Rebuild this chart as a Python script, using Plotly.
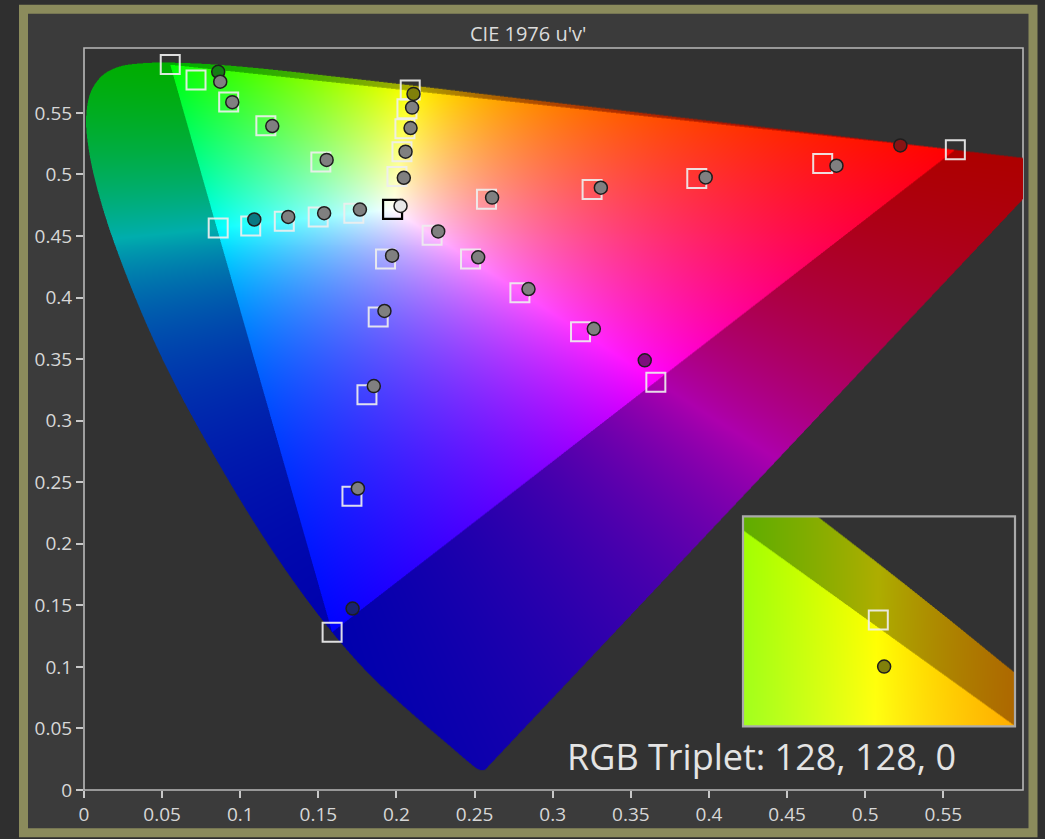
import base64, struct, zlib
import numpy as np
import plotly.graph_objects as go

# ---------------- data (u', v') ----------------
# spectral locus, 380 nm ... 700 nm (closed by the purple line)
locus_u = [0.2568, 0.2557, 0.2522, 0.2461, 0.2347, 0.2161, 0.1877, 0.1690, 0.1441, 0.1147,
           0.0828, 0.0521, 0.0282, 0.0119, 0.0035, 0.0014, 0.0046, 0.0123, 0.0231, 0.0360,
           0.0501, 0.0792, 0.1127, 0.1531, 0.2026, 0.2312, 0.2623, 0.3315, 0.4035, 0.4692,
           0.5203, 0.5565, 0.5830, 0.6005, 0.6109, 0.6234]
locus_v = [0.0166, 0.0160, 0.0170, 0.0228, 0.0352, 0.0553, 0.0877, 0.1128, 0.1521, 0.2058,
           0.2727, 0.3451, 0.4146, 0.4732, 0.5167, 0.5470, 0.5677, 0.5810, 0.5878, 0.5902,
           0.5909, 0.5897, 0.5862, 0.5806, 0.5734, 0.5691, 0.5643, 0.5539, 0.5431, 0.5333,
           0.5256, 0.5201, 0.5161, 0.5135, 0.5120, 0.5101]

# targets (squares): 100 % ... 20 % saturation
red_target_u = [0.5577, 0.4728, 0.3922, 0.3252, 0.2576]
red_target_v = [0.5201, 0.5089, 0.4967, 0.4878, 0.4798]
green_target_u = [0.0552, 0.0717, 0.0926, 0.1164, 0.1516]
green_target_v = [0.5892, 0.5768, 0.5589, 0.5395, 0.5102]
blue_target_u = [0.1588, 0.1715, 0.1811, 0.1883, 0.1930]
blue_target_v = [0.1282, 0.2387, 0.3210, 0.3843, 0.4313]
cyan_target_u = [0.0859, 0.1067, 0.1282, 0.1499, 0.1727]
cyan_target_v = [0.4564, 0.4582, 0.4620, 0.4655, 0.4685]
magenta_target_u = [0.3660, 0.3178, 0.2790, 0.2474, 0.2228]
magenta_target_v = [0.3313, 0.3722, 0.4039, 0.4313, 0.4507]
yellow_target_u = [0.2088, 0.2067, 0.2054, 0.2035, 0.2003]
yellow_target_v = [0.5686, 0.5533, 0.5372, 0.5185, 0.4983]
white_target_u = [0.1975]
white_target_v = [0.4717]

# measurements (circles)
red_meas_u = [0.5225, 0.4816, 0.3979, 0.3308, 0.2612]
red_meas_v = [0.5236, 0.5071, 0.4976, 0.4892, 0.4812]
green_meas_u = [0.0859, 0.0872, 0.0949, 0.1205, 0.1553]
green_meas_v = [0.5834, 0.5753, 0.5587, 0.5393, 0.5118]
blue_meas_u = [0.1719, 0.1753, 0.1855, 0.1923, 0.1972]
blue_meas_v = [0.1474, 0.2449, 0.3281, 0.3891, 0.4340]
cyan_meas_u = [0.1090, 0.1307, 0.1537, 0.1766]
cyan_meas_v = [0.4634, 0.4655, 0.4685, 0.4715]
magenta_meas_u = [0.3589, 0.3263, 0.2845, 0.2523, 0.2267]
magenta_meas_v = [0.3490, 0.3746, 0.4069, 0.4327, 0.4537]
yellow_meas_u = [0.2109, 0.2100, 0.2090, 0.2058, 0.2047]
yellow_meas_v = [0.5654, 0.5543, 0.5377, 0.5185, 0.4973]
white_meas_u = [0.2026]
white_meas_v = [0.4744]

# fill colour of the fully saturated measurement of each series
full_colors = {"red": "rgb(135,20,20)", "green": "rgb(20,125,20)", "blue": "rgb(25,35,110)",
               "cyan": "rgb(10,120,130)", "magenta": "rgb(125,15,125)", "yellow": "rgb(128,128,10)"}
gray_fill = "rgb(128,128,128)"
white_fill = "rgb(232,232,232)"

x_ticks = [0, 0.05, 0.1, 0.15, 0.2, 0.25, 0.3, 0.35, 0.4, 0.45, 0.5, 0.55]
x_tick_text = ["0", "0.05", "0.1", "0.15", "0.2", "0.25", "0.3", "0.35", "0.4", "0.45", "0.5", "0.55"]
y_ticks = x_ticks
y_tick_text = x_tick_text

title_text = "CIE 1976 u'v'"
triplet_text = "RGB Triplet: 128, 128, 0"

X_RANGE = [0, 0.601]
Y_RANGE = [0, 0.6027]
INSET_X = [0.1602, 0.2579]
INSET_Y = [0.5613, 0.5757]

# ---------------- background rendering ----------------
def uv_to_XYZ(U, V):
    V = np.maximum(V, 1e-3)
    return np.stack([9 * U / (4 * V), np.ones_like(U), (12 - 3 * U - 20 * V) / (4 * V)])

prim = np.array([[red_target_u[0], green_target_u[0], blue_target_u[0]],
                 [red_target_v[0], green_target_v[0], blue_target_v[0]]])
P = uv_to_XYZ(prim[0], prim[1])  # columns = primaries
Wp = uv_to_XYZ(np.array(white_target_u), np.array(white_target_v))[:, 0]
S = np.linalg.solve(P, Wp)
M = P * S
Minv = np.linalg.inv(M)


def smooth_curve(xs, ys, n=12):
    """centripetal Catmull-Rom curve through the given points (drawing only)."""
    pts = [np.array([x * 1563.0, y * 1239.0]) for x, y in zip(xs, ys)]
    ext = [2 * pts[0] - pts[1]] + pts + [2 * pts[-1] - pts[-2]]
    out = []
    for i in range(len(pts) - 1):
        p0, p1, p2, p3 = ext[i], ext[i + 1], ext[i + 2], ext[i + 3]
        t0 = 0.0
        t1 = t0 + max(np.linalg.norm(p1 - p0), 1e-6) ** 0.5
        t2 = t1 + max(np.linalg.norm(p2 - p1), 1e-6) ** 0.5
        t3 = t2 + max(np.linalg.norm(p3 - p2), 1e-6) ** 0.5
        for t in np.linspace(t1, t2, n, endpoint=False):
            a1 = (t1 - t) / (t1 - t0) * p0 + (t - t0) / (t1 - t0) * p1
            a2 = (t2 - t) / (t2 - t1) * p1 + (t - t1) / (t2 - t1) * p2
            a3 = (t3 - t) / (t3 - t2) * p2 + (t - t2) / (t3 - t2) * p3
            b1 = (t2 - t) / (t2 - t0) * a1 + (t - t0) / (t2 - t0) * a2
            b2 = (t3 - t) / (t3 - t1) * a2 + (t - t1) / (t3 - t1) * a3
            c = (t2 - t) / (t2 - t1) * b1 + (t - t1) / (t2 - t1) * b2
            out.append(c)
    out.append(pts[-1])
    out = np.array(out)
    return list(out[:, 0] / 1563.0), list(out[:, 1] / 1239.0)


poly_u, poly_v = smooth_curve(locus_u, locus_v)


def inside_poly(X, Y, px, py):
    res = np.zeros(X.shape, bool)
    n = len(px)
    j = n - 1
    for i in range(n):
        xi, yi, xj, yj = px[i], py[i], px[j], py[j]
        if yi != yj:
            cond = (yi > Y) != (yj > Y)
            xint = (xj - xi) * (Y - yi) / (yj - yi) + xi
            res ^= cond & (X < xint)
        j = i
    return res


def render(xr, yr, W, H, ss=2, g_in=0.9, g_out=1.2, dark=0.68):
    Ws, Hs = W * ss, H * ss
    uu = xr[0] + (np.arange(Ws) + 0.5) / Ws * (xr[1] - xr[0])
    vv = yr[1] - (np.arange(Hs) + 0.5) / Hs * (yr[1] - yr[0])
    U, V = np.meshgrid(uu, vv)
    inside = inside_poly(U, V, poly_u, poly_v)
    XYZ = uv_to_XYZ(U, V)
    rgb = np.einsum('ij,jhw->ihw', Minv, XYZ)
    neg = (rgb < 0).any(axis=0)
    c = np.clip(rgb, 0, None)
    m = c.max(axis=0)
    m[m == 0] = 1
    c = c / m
    c = np.where(neg[None], (c ** g_out) * dark, c ** g_in)
    a = inside.astype(float)
    pre = np.concatenate([c * a[None], a[None]], axis=0)
    pre = pre.reshape(4, H, ss, W, ss).mean(axis=(2, 4))
    alpha = pre[3]
    col = pre[:3] / np.maximum(alpha, 1e-6)
    img = np.concatenate([col, alpha[None]], axis=0)
    img = np.clip(np.round(img * 255), 0, 255).astype(np.uint8).transpose(1, 2, 0)
    return img


def png_uri(img):
    h, w, _ = img.shape
    raw = b''.join(b'\x00' + img[r].tobytes() for r in range(h))

    def chunk(t, d):
        return struct.pack('>I', len(d)) + t + d + struct.pack('>I', zlib.crc32(t + d) & 0xffffffff)

    png = (b'\x89PNG\r\n\x1a\n' + chunk(b'IHDR', struct.pack('>IIBBBBB', w, h, 8, 6, 0, 0, 0))
           + chunk(b'IDAT', zlib.compress(raw, 9)) + chunk(b'IEND', b''))
    return 'data:image/png;base64,' + base64.b64encode(png).decode()


main_img = png_uri(render(X_RANGE, Y_RANGE, 939, 746))
inset_img = png_uri(render(INSET_X, INSET_Y, 272, 211))

# ---------------- figure ----------------
fig = go.Figure()

tu = red_target_u + green_target_u + blue_target_u + cyan_target_u + magenta_target_u + yellow_target_u
tv = red_target_v + green_target_v + blue_target_v + cyan_target_v + magenta_target_v + yellow_target_v
sq_col = 'rgba(238,238,238,0.92)'
fig.add_trace(go.Scatter(x=tu, y=tv, mode='markers', hoverinfo='skip',
                         marker=dict(symbol='square-open', size=19, color=sq_col,
                                     line=dict(width=2, color=sq_col))))
fig.add_trace(go.Scatter(x=white_target_u, y=white_target_v, mode='markers', hoverinfo='skip',
                         marker=dict(symbol='square-open', size=19, color='black',
                                     line=dict(width=2.2, color='black'))))

mu, mv, mc = [], [], []
for name, us, vs in [("red", red_meas_u, red_meas_v), ("green", green_meas_u, green_meas_v),
                     ("blue", blue_meas_u, blue_meas_v), ("cyan", cyan_meas_u, cyan_meas_v),
                     ("magenta", magenta_meas_u, magenta_meas_v)]:
    for i, (a, b) in enumerate(zip(us, vs)):
        mu.append(a); mv.append(b)
        mc.append(full_colors[name] if i == 0 else gray_fill)
mu += white_meas_u; mv += white_meas_v; mc.append(white_fill)
for i, (a, b) in enumerate(zip(yellow_meas_u, yellow_meas_v)):
    mu.append(a); mv.append(b)
    mc.append(full_colors["yellow"] if i == 0 else gray_fill)

fig.add_trace(go.Scatter(x=mu, y=mv, mode='markers', hoverinfo='skip',
                         marker=dict(symbol='circle', size=13, color=mc,
                                     line=dict(width=1.5, color='rgb(30,30,30)'))))

# inset: current patch
fig.add_trace(go.Scatter(x=yellow_target_u[:1], y=yellow_target_v[:1], mode='markers', xaxis='x2', yaxis='y2',
                         hoverinfo='skip',
                         marker=dict(symbol='square-open', size=19, color=sq_col,
                                     line=dict(width=2, color=sq_col))))
fig.add_trace(go.Scatter(x=yellow_meas_u[:1], y=yellow_meas_v[:1], mode='markers', xaxis='x2', yaxis='y2',
                         hoverinfo='skip',
                         marker=dict(symbol='circle', size=13, color=full_colors["yellow"],
                                     line=dict(width=1.5, color='rgb(30,30,30)'))))

W_FIG, H_FIG = 1045, 839
ML, MR, MT, MB = 84, 22, 48, 45
PW, PH = W_FIG - ML - MR, H_FIG - MT - MB


def px2paper_x(px):
    return (px - ML) / PW


def px2paper_y(py):
    return (H_FIG - MB - py) / PH


olive = 'rgb(139,139,92)'
outer_bg = 'rgb(47,47,47)'
fig.update_layout(
    width=W_FIG, height=H_FIG,
    margin=dict(l=ML, r=MR, t=MT, b=MB),
    paper_bgcolor=outer_bg,
    plot_bgcolor='rgba(0,0,0,0)',
    showlegend=False,
    font=dict(family='Open Sans, sans-serif', color='rgb(215,215,215)'),
    xaxis=dict(range=X_RANGE, tickvals=x_ticks, ticktext=x_tick_text, showgrid=False, zeroline=False,
               ticks='outside', ticklen=7, tickwidth=1.5, tickcolor='rgb(200,200,200)',
               showline=False, tickfont=dict(size=19, color='rgb(215,215,215)'), fixedrange=True),
    yaxis=dict(range=Y_RANGE, tickvals=y_ticks, ticktext=y_tick_text, showgrid=False, zeroline=False,
               ticks='outside', ticklen=7, tickwidth=1.5, tickcolor='rgb(200,200,200)',
               showline=False, tickfont=dict(size=19, color='rgb(215,215,215)'), fixedrange=True),
    xaxis2=dict(domain=[px2paper_x(743), px2paper_x(1015)], range=INSET_X, anchor='y2', visible=False,
                fixedrange=True),
    yaxis2=dict(domain=[px2paper_y(730), px2paper_y(519)], range=INSET_Y, anchor='x2', visible=False,
                fixedrange=True),
    images=[
        dict(source=main_img, xref='x', yref='y', x=X_RANGE[0], y=Y_RANGE[1],
             sizex=X_RANGE[1] - X_RANGE[0], sizey=Y_RANGE[1] - Y_RANGE[0],
             xanchor='left', yanchor='top', sizing='stretch', layer='below'),
        dict(source=inset_img, xref='x2', yref='y2', x=INSET_X[0], y=INSET_Y[1],
             sizex=INSET_X[1] - INSET_X[0], sizey=INSET_Y[1] - INSET_Y[0],
             xanchor='left', yanchor='top', sizing='stretch', layer='below'),
    ],
    shapes=[
        dict(type='rect', xref='paper', yref='paper', layer='below',
             x0=px2paper_x(23.5), x1=px2paper_x(1033), y0=px2paper_y(837), y1=px2paper_y(9),
             fillcolor='rgb(59,59,59)', line=dict(color=olive, width=9)),
        dict(type='rect', xref='paper', yref='paper', layer='below', x0=0, x1=1, y0=0, y1=1,
             fillcolor='rgb(50,50,50)', line=dict(color='rgb(185,185,185)', width=1.6)),
        dict(type='rect', xref='x2 domain', yref='y2 domain', layer='below', x0=0, x1=1, y0=0, y1=1,
             fillcolor='rgb(50,50,50)', line=dict(width=0)),
        dict(type='rect', xref='x2 domain', yref='y2 domain', layer='above', x0=0, x1=1, y0=0, y1=1,
             line=dict(color='rgb(170,170,170)', width=2.2)),
    ],
    annotations=[
        dict(text=title_text, xref='paper', yref='paper', x=px2paper_x(528), y=px2paper_y(33),
             xanchor='center', yanchor='middle', showarrow=False,
             font=dict(size=20, color='rgb(220,220,220)')),
        dict(text=triplet_text, xref='paper', yref='paper', x=px2paper_x(958), y=px2paper_y(760),
             xanchor='right', yanchor='middle', showarrow=False,
             font=dict(size=36, color='rgb(228,228,228)')),
    ],
)

fig.write_html("out.html", config={'displayModeBar': False},
               post_script="document.body.style.margin='0px';"
                           "document.body.style.background='" + outer_bg + "';")
